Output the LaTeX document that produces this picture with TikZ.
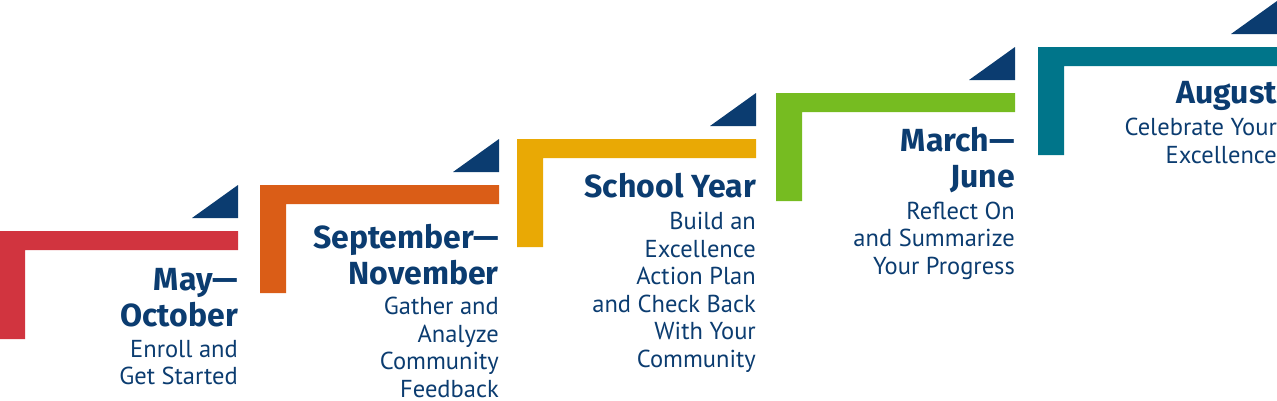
\documentclass[tikz,border=0pt]{standalone}
\usepackage{fontspec}
\setmainfont{PT Sans}
\newfontfamily\ttlfont{Fira Sans}
\definecolor{cRed}{HTML}{D1343F}
\definecolor{cOrange}{HTML}{DA5D17}
\definecolor{cYellow}{HTML}{E9A905}
\definecolor{cGreen}{HTML}{76BC21}
\definecolor{cTeal}{HTML}{00758A}
\definecolor{cNavy}{HTML}{0B3C70}
\newcommand\stepbar[3]{%
  \fill[#3] (#1,#2) -- ++(239,0) -- ++(0,19) -- ++(-213,0) -- ++(0,89) -- ++(-26,0) -- cycle;
  \fill[cNavy] (#1+239,#2-46) -- (#1+239,#2-13) -- (#1+193,#2-13) -- cycle;
}
\tikzset{
  ttl/.style={anchor=base east, inner sep=0pt, align=right, text=cNavy,
    font=\ttlfont\fontsize{32}{36}\selectfont\bfseries},
  bdy/.style={anchor=base east, inner sep=0pt, align=right, text=cNavy,
    font=\fontsize{24.5}{27.5}\selectfont}
}
\begin{document}
\begin{tikzpicture}[x=1pt,y=-1pt]
\useasboundingbox (0,0) rectangle (1277,400);
\stepbar{-1}{231}{cRed}
\stepbar{260}{185}{cOrange}
\stepbar{517}{139}{cYellow}
\stepbar{776}{93}{cGreen}
\stepbar{1038}{47}{cTeal}
% step 1 (anchors on the last line's baseline)
\node[ttl] (t1) at (238,326) {May—\\October};
\node[bdy] (b1) at (238,384.5) {Enroll and\\Get Started};
% step 2
\node[ttl] (t2) at (499,284) {September—\\November};
\node[bdy] (b2) at (499,397) {Gather and\\Analyze\\Community\\Feedback};
% step 3
\node[ttl] (t3) at (756,197) {School Year};
\node[bdy] (b3) at (756,367) {Build an\\Excellence\\Action Plan\\and Check Back\\With Your\\Community};
% step 4
\node[ttl] (t4) at (1015,187) {March—\\June};
\node[bdy] (b4) at (1015,274) {Reflect On\\and Summarize\\Your Progress};
% step 5
\node[ttl] (t5) at (1277,103) {August};
\node[bdy] (b5) at (1277,163) {Celebrate Your\\Excellence};
\end{tikzpicture}
\end{document}
